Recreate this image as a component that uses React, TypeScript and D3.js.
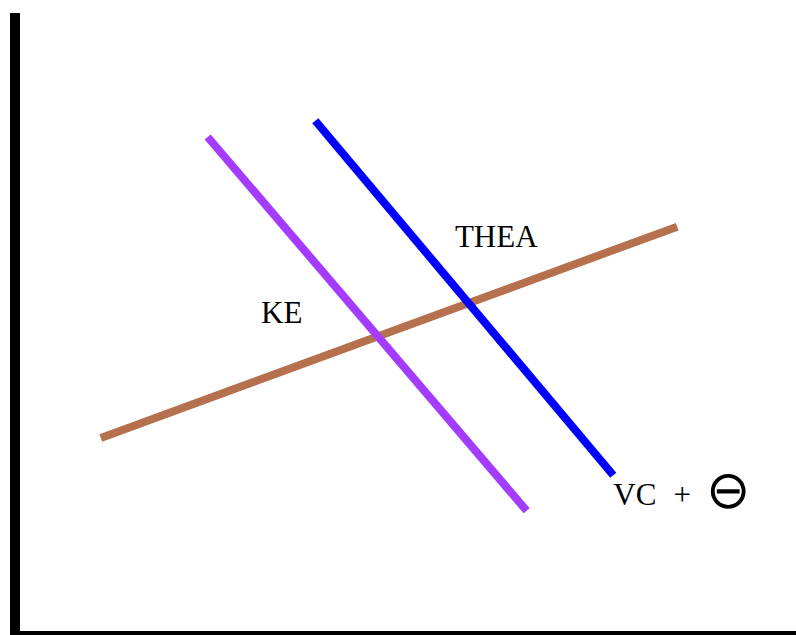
import React from "react";
import * as d3 from "d3";

type Pt = { x: number; y: number };

const curveNames = ["brown", "purple", "blue"];
const brownCurve: Pt[] = [
  { x: 1.1, y: 3.18 },
  { x: 8.49, y: 6.57 },
];
const purpleCurve: Pt[] = [
  { x: 2.47, y: 8.01 },
  { x: 6.56, y: 2.01 },
];
const blueCurve: Pt[] = [
  { x: 3.85, y: 8.27 },
  { x: 7.67, y: 2.58 },
];
const curveColors = ["#b5714d", "#a33cff", "#0000ff"];
const labels = [
  { text: "KE", x: 3.42, y: 5.02, anchor: "middle" },
  { text: "THEA", x: 6.17, y: 6.24, anchor: "middle" },
];
const vcLabel = { x: 7.67, y: 2.10 };

const W = 796;
const H = 635;

export default function App() {
  const x = d3.scaleLinear().domain([0, 10]).range([15, 795]);
  const y = d3.scaleLinear().domain([0, 10]).range([636, 13]);
  const line = d3
    .line<Pt>()
    .x((d) => x(d.x))
    .y((d) => y(d.y));
  const curves = [brownCurve, purpleCurve, blueCurve];
  const font = "'Liberation Serif', 'Times New Roman', serif";
  return (
    <svg
      width={W}
      height={H}
      style={{ position: "absolute", left: 0, top: 0, background: "#fff" }}
    >
      {curves.map((c, i) => (
        <path
          key={curveNames[i]}
          d={line(c) || ""}
          stroke={curveColors[i]}
          strokeWidth={8}
          fill="none"
          strokeLinecap="butt"
        />
      ))}
      <line x1={x(0)} x2={x(0)} y1={y(10)} y2={y(0) + 5} stroke="#000" strokeWidth={10} />
      <line x1={x(0) - 5} x2={W} y1={y(0)} y2={y(0)} stroke="#000" strokeWidth={10} />
      {labels.map((l) => (
        <text
          key={l.text}
          x={x(l.x)}
          y={y(l.y)}
          textAnchor={l.anchor as any}
          fontFamily={font}
          fontSize={31}
          fill="#000"
        >
          {l.text}
        </text>
      ))}
      <text x={x(vcLabel.x)} y={y(vcLabel.y)} fontFamily={font} fontSize={31} fill="#000">
        VC
      </text>
      <text
        x={x(vcLabel.x) + 69}
        y={y(vcLabel.y)}
        textAnchor="middle"
        fontFamily={font}
        fontSize={31}
        fill="#000"
      >
        +
      </text>
      <text
        x={x(vcLabel.x) + 115}
        y={y(vcLabel.y) + 3}
        textAnchor="middle"
        fontFamily="'DejaVu Sans', sans-serif"
        fontWeight={200}
        fontSize={53}
        fill="#000"
      >
        ⊖
      </text>
    </svg>
  );
}
